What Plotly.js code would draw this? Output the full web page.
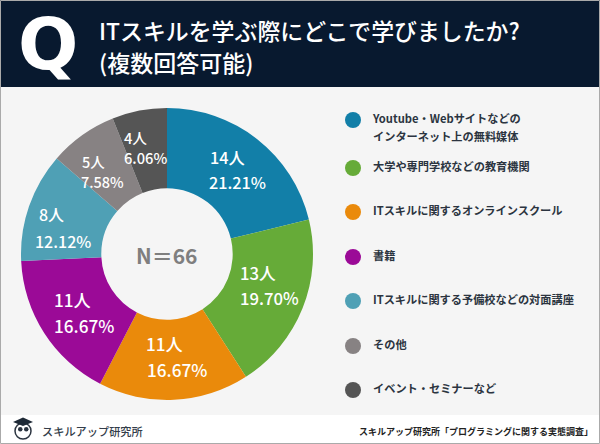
<!DOCTYPE html>
<html><head><meta charset="utf-8">
<script src="https://cdn.plot.ly/plotly-3.0.1.min.js"></script>
<style>html,body{margin:0;padding:0;background:#fff}</style></head>
<body><div id="chart" style="width:600px;height:444px"></div>
<script>
const categories = ["Youtube・Webサイトなどの インターネット上の無料媒体","大学や専門学校などの教育機関","ITスキルに関するオンラインスクール","書籍","ITスキルに関する予備校などの対面講座","その他","イベント・セミナーなど"];
const counts = [14,13,11,11,8,5,4];
const percents = ["21.21%","19.70%","16.67%","16.67%","12.12%","7.58%","6.06%"];
const colors = ["#127fa8","#66ab38","#ea8a0b","#9b0a97","#4fa0b5","#878283","#555555"];
const sliceFontSizes = [16.2,16.7,17.2,17.2,16,14.5,14.7];
const countPos = [[227,157],[258,273],[164,343],[72,299],[51,214],[93,161],[135,137]];
const percentPos = [[237,182],[269,298],[177,369],[84,325],[63,241],[102,181],[145,157]];
const legendRows = [120,168,212,257,301,346,390];
const legendLines = ["Youtube・Webサイトなどの","インターネット上の無料媒体","大学や専門学校などの教育機関","ITスキルに関するオンラインスクール","書籍","ITスキルに関する予備校などの対面講座","その他","イベント・セミナーなど"];
const legendLineRows = [120,138,168,212,257,301,346,390];
const titleLine1 = "ITスキルを学ぶ際にどこで学びましたか?";
const titleLine2 = "(複数回答可能)";
const centerLabel = "N＝66";
const footerLeft = "スキルアップ研究所";
const footerRight = "スキルアップ研究所「プログラミングに関する実態調査」";
const F = '"Noto Sans CJK JP","Noto Sans",sans-serif';
const W=600,H=444;
const pie = {type:'pie',values:counts,labels:categories,sort:false,direction:'clockwise',rotation:0,hole:0.45,
  domain:{x:[21/W,313/W],y:[1-400/H,1-108/H]},
  marker:{colors:colors,line:{width:0}},textinfo:'none',hoverinfo:'skip',showlegend:false};
const keyDots = {type:'scatter',mode:'markers',x:legendRows.map(()=>353),y:legendRows,
  marker:{size:16,color:colors,line:{width:0}},hoverinfo:'skip',showlegend:false,cliponaxis:false};
const keyText = {type:'scatter',mode:'text',x:legendLines.map(()=>373),y:legendLineRows,text:legendLines,textposition:'middle right',
  textfont:{family:F,size:11.2,color:'#2b3440',weight:700},cliponaxis:false,hoverinfo:'skip',showlegend:false};
const ann=(x,y,text,size,color,weight,extra)=>Object.assign({xref:'x',yref:'y',x,y,text,showarrow:false,font:{family:F,size,color,weight}},extra||{});
const sliceAnn=[];
counts.forEach((c,i)=>{
  sliceAnn.push(ann(countPos[i][0],countPos[i][1],c+'人',sliceFontSizes[i],'#ffffff',500));
  sliceAnn.push(ann(percentPos[i][0],percentPos[i][1],percents[i],sliceFontSizes[i],'#ffffff',500));
});
const qMark = ann(48,44,'Q',71,'#ffffff',700);
qMark.font.family='"DejaVu Sans",sans-serif';
const layout = {width:W,height:H,margin:{l:0,r:0,t:0,b:0},paper_bgcolor:'#f5f5f5',plot_bgcolor:'rgba(0,0,0,0)',showlegend:false,
  xaxis:{range:[0,W],visible:false,domain:[0,1],fixedrange:true},
  yaxis:{range:[H,0],visible:false,domain:[0,1],fixedrange:true},
  shapes:[
   {type:'rect',layer:'below',xref:'x',yref:'y',x0:0,x1:W,y0:0,y1:87,fillcolor:'#08192f',line:{width:0}},
   {type:'rect',layer:'below',xref:'x',yref:'y',x0:0,x1:W,y0:415,y1:H,fillcolor:'#ffffff',line:{width:0}},
   {type:'circle',layer:'above',xref:'x',yref:'y',x0:15,x1:31,y0:423,y1:439,fillcolor:'#ffffff',line:{width:1.5,color:'#2b3440'}},
   {type:'circle',layer:'above',xref:'x',yref:'y',x0:18,x1:22.5,y0:427,y1:431.5,fillcolor:'#2b3440',line:{width:0}},
   {type:'circle',layer:'above',xref:'x',yref:'y',x0:24,x1:28.5,y0:427,y1:431.5,fillcolor:'#2b3440',line:{width:0}},
   {type:'path',layer:'above',xref:'x',yref:'y',path:'M 13 422 L 23 417.5 L 33 422 L 23 426 Z',fillcolor:'#1e2936',line:{width:0}},
   {type:'rect',layer:'above',xref:'x',yref:'y',x0:0.5,x1:W-0.5,y0:0.5,y1:H-0.5,fillcolor:'rgba(0,0,0,0)',line:{width:1,color:'#aaaaaa'}}
  ],
  annotations:[
   qMark,
   ann(96.5,30,titleLine1,22.9,'#ffffff',500,{xanchor:'left'}),
   ann(96.5,62,titleLine2,23,'#ffffff',500,{xanchor:'left'}),
   ann(167,255,centerLabel,21,'#7f7f7f',700),
   ann(40,431,footerLeft,11.2,'#333d4a',500,{xanchor:'left'}),
   ann(595,431,footerRight,9,'#222222',700,{xanchor:'right'})
  ].concat(sliceAnn)};
Plotly.newPlot('chart',[pie,keyDots,keyText],layout,{displayModeBar:false,staticPlot:true});
</script></body></html>
